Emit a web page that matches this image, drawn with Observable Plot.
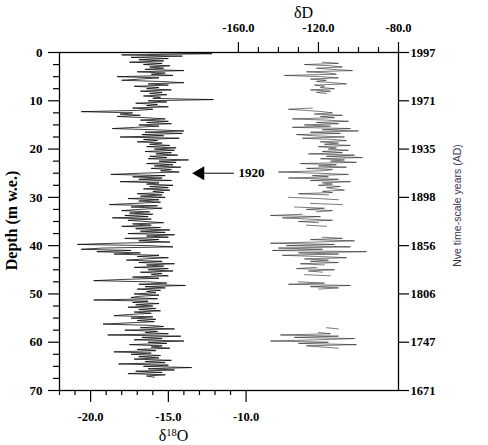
<!DOCTYPE html>
<html><head><meta charset="utf-8">
<script src="https://cdn.jsdelivr.net/npm/d3@7"></script>
<script src="https://cdn.jsdelivr.net/npm/@observablehq/plot@0.6"></script>
<style>
body{margin:0;background:#fff;}
#chart{position:relative;width:488px;height:445px;}
#chart svg{position:absolute;left:0;top:0;}
</style></head><body><div id="chart"></div>
<script>
// ---- axis ticks and labels ----
const depthTicks = [0, 10, 20, 30, 40, 50, 60, 70];
const depthMinorTicks = [2.5, 5, 7.5, 12.5, 15, 17.5, 22.5, 25, 27.5, 32.5, 35, 37.5, 42.5, 45, 47.5, 52.5, 55, 57.5, 62.5, 65, 67.5];
const yearLabels = ["1997", "1971", "1935", "1898", "1856", "1806", "1747", "1671"];
const d18OTicks = [-20, -15, -10];
const d18OMinorTicks = [-22, -21, -19, -18, -17, -16, -14, -13, -12, -11];
const dDTicks = [-160, -120, -80];
const dDMinorTicks = [-150, -140, -130, -110, -100, -90];

// ---- δ18O record: first depth and sampling step (m w.e.) ----
const d18OStart = 0;
const d18OStep = 0.25;
const d18O = [
  -16.8, -12.2, -18.0, -14.1,  -17.4, -15.0, -16.9, -15.3,  -17.5, -15.4, -16.6, -14.9,
  -16.2, -15.3, -16.5, -14.0,  -17.0, -15.2, -16.1, -14.7,  -18.3, -15.6, -16.8, -18.0,
  -15.5, -14.0, -16.3, -15.0,  -17.2, -15.6, -16.4, -14.8,  -16.8, -15.4, -16.2, -15.1,
  -16.6, -15.5, -16.0, -12.1,  -16.3, -15.1, -17.1, -15.7,  -16.4, -15.0, -17.3, -16.0,
  -17.0, -20.6, -17.3, -18.1,  -16.8, -18.3, -16.5, -15.2,  -16.8, -15.0, -16.4, -14.8,
  -16.9, -15.6, -17.1, -18.6,  -15.9, -14.0, -16.5, -14.1,  -16.7, -15.3, -18.1, -14.3,
  -16.6, -15.7, -17.0, -15.4,  -16.2, -14.9, -16.4, -14.5,  -15.9, -14.6, -16.5, -14.8,
  -15.8, -14.4, -16.2, -15.1,  -16.3, -13.7, -15.6, -14.5,  -16.4, -14.7, -15.9, -14.2,
  -16.1, -14.8, -15.5, -14.3,  -16.8, -18.7, -15.2, -17.3,  -15.4, -16.9, -14.8, -18.1,
  -15.6, -16.4, -14.7, -16.2,  -15.0, -16.6, -14.9, -16.0,  -15.3, -17.0, -15.4, -16.8,
  -15.2, -17.6, -15.6, -16.9,  -15.5, -17.2, -18.8, -15.7,  -17.4, -15.4, -16.9, -18.0,
  -16.2, -17.5, -16.0, -17.8,  -16.3, -18.6, -16.1, -17.6,  -16.5, -15.3, -17.3, -16.1,
  -18.0, -15.5, -17.1, -14.9,  -16.8, -15.2, -17.6, -14.6,  -16.4, -15.0, -17.8, -15.6,
  -16.9, -14.9, -18.4, -20.85, -16.2, -14.7, -19.2, -20.6,  -17.4, -19.6, -16.8, -18.5,
  -15.6, -17.0, -15.0, -16.5,  -17.7, -15.4, -16.9, -14.6,  -16.4, -15.3, -17.2, -15.0,
  -16.3, -14.7, -16.8, -15.4,  -16.1, -15.0, -17.3, -15.6,  -17.9, -19.8, -16.2, -15.1,
  -16.9, -13.9, -16.5, -15.2,  -17.0, -15.5, -16.4, -15.8,  -17.2, -15.6, -16.9, -17.4,
  -15.7, -19.8, -16.3, -17.3,  -15.6, -17.1, -16.0, -17.6,  -15.8, -16.9, -15.5, -17.2,
  -16.1, -17.5, -18.5, -16.0,  -17.4, -15.8, -17.0, -15.9,  -17.6, -19.2, -16.2, -15.3,
  -16.8, -14.6, -17.8, -15.7,  -16.5, -15.0, -18.9, -14.2,  -16.7, -15.4, -17.2, -14.0,
  -16.3, -15.1, -17.5, -15.4,  -16.1, -14.9, -17.0, -15.8,  -18.5, -16.1, -17.4, -15.5,
  -16.9, -15.6, -17.2, -14.8,  -16.5, -15.2, -18.2, -15.0,  -16.6, -13.5, -16.3, -14.6,
  -17.1, -15.4, -17.6, -15.2,  -16.4, -15.9
];

// ---- δD record: measured runs (start depth of each run, values at the same step) ----
const dDStep = 0.25;
const dDRunStarts = [2.0, 11.5, 30.0, 31.25, 32.0, 33.5, 35.75, 38.25, 44.5, 46.0, 47.5, 57.0, 58.0];
const dDRuns = [
  [-118, -110, -127, -114, -108, -121, -113, -103, -126, -115, -111, -137, -119, -110, -124, -116, -121, -113, -106, -122, -117, -119, -112, -124, -114, -121, -116],
  [-123, -135, -126, -118, -113, -122, -108, -119, -112, -133, -116, -105, -121, -110, -127, -114, -133, -104, -118, -100, -124, -109, -131, -122, -107, -128, -113, -106, -119, -110, -117, -104, -120, -111, -115, -105, -118, -108, -125, -102, -116, -98, -119, -107, -114, -101, -129, -111, -120, -106, -126, -113, -118, -140, -121, -105, -123, -115, -135, -110, -124, -104, -118, -113, -120, -109, -116, -112, -107, -118, -113, -130, -115],
  [-135, -120, -110],
  [-124, -108],
  [-132, -117, -126, -113, -121],
  [-128, -144, -119, -138, -125, -113, -130, -120],
  [-126, -116],
  [-118, -108, -124, -102, -121, -144, -112, -136, -104, -140, -118, -143, -96, -130, -110, -138, -120, -106, -127, -115, -124, -110, -129, -117],
  [-121, -131, -112, -125, -118],
  [-127, -114],
  [-130, -117, -135, -104, -124, -110, -120],
  [-116, -110],
  [-120, -114, -139, -110, -132, -102, -121, -144, -115, -130, -101, -126, -118, -110]
];

// ---- annotation ----
const arrowDepth = 25;
const arrowTip = -13.4;
const arrowTail = -10.75;
const arrowLabel = "1920";

// ---- text ----
const depthTitle = "Depth (m w.e.)";
const yearTitle = "Nve time-scale years (AD)";
const dDTitle = "δD";
const d18OTitle = "δ18O";

// ---- build tables ----
const d18ORows = d18O.map((v, i) => ({d: d18OStart + i * d18OStep, v}));
const dDRows = dDRuns.flatMap((run, r) => run.map((v, i) => ({d: dDRunStarts[r] + i * dDStep, v, run: r})));

const serif = "'Liberation Serif', 'Times New Roman', serif";
const sans = "'Liberation Sans', Arial, sans-serif";
const common = {
  width: 488, height: 445,
  marginLeft: 59, marginRight: 90, marginTop: 52, marginBottom: 55,
  y: {domain: [0, 70], reverse: true},
  style: {fontFamily: serif, background: "transparent", overflow: "visible", color: "#000"}
};
const tickText = {fontFamily: serif, fontSize: 12.5, fontWeight: "bold", fill: "#000"};
const title = {textAnchor: "middle", lineAnchor: "middle", text: d => d, fontFamily: serif, fill: "#000"};

const p1 = Plot.plot({
  ...common,
  x: {domain: [-22, -0.2]},
  marks: [
    Plot.frame({stroke: "#000", strokeWidth: 1.3}),
    Plot.axisX(d18OMinorTicks, {anchor: "bottom", tickSize: 5, strokeWidth: 1.2, tickFormat: () => "", label: null}),
    Plot.axisX(d18OTicks, {anchor: "bottom", tickSize: 12, strokeWidth: 1.2, tickPadding: 10, tickFormat: d => d.toFixed(1), ...tickText, label: null}),
    Plot.axisY(depthMinorTicks, {anchor: "left", tickSize: 6, strokeWidth: 1.2, tickFormat: () => "", label: null}),
    Plot.axisY(depthTicks, {anchor: "left", tickSize: 11, strokeWidth: 1.2, tickPadding: 6, tickFormat: d => String(d), ...tickText, fontSize: 13, label: null}),
    Plot.axisY(depthTicks, {anchor: "right", tickSize: 10, strokeWidth: 1.2, tickPadding: 2, tickFormat: d => yearLabels[depthTicks.indexOf(d)], ...tickText, label: null}),
    Plot.line(d18ORows, {x: "v", y: "d", stroke: "#000", strokeWidth: 0.75}),
    Plot.ruleY([arrowDepth], {x1: arrowTip + 0.5, x2: arrowTail, stroke: "#000", strokeWidth: 1}),
    Plot.dot([arrowDepth], {x: arrowTip, y: d => d, symbol: "triangle", r: 5.2, fill: "#000", stroke: null, rotate: -90, dx: 7}),
    Plot.text([arrowLabel], {x: arrowTail, y: arrowDepth, text: d => d, textAnchor: "start", dx: 4, fontFamily: serif, fontSize: 13, fontWeight: "bold"}),
    Plot.text([depthTitle], {...title, frameAnchor: "left", dx: -48, dy: -1, rotate: -90, fontSize: 16, fontWeight: "bold"}),
    Plot.text([yearTitle], {...title, frameAnchor: "right", dx: 59, dy: -16, rotate: -90, fontFamily: sans, fontSize: 10.5, fill: "#3a3552"}),
    Plot.text([d18OTitle], {...title, frameAnchor: "bottom", dx: -55.5, dy: 45, fontSize: 16, className: "d18o-label"})
  ]
});

const p2 = Plot.plot({
  ...common,
  x: {domain: [-249.4, -80]},
  y: {domain: [0, 70], reverse: true, axis: null},
  marks: [
    Plot.axisX(dDMinorTicks, {anchor: "top", tickSize: 6, strokeWidth: 1.2, tickFormat: () => "", label: null}),
    Plot.axisX(dDTicks, {anchor: "top", tickSize: 11, strokeWidth: 1.2, tickPadding: 10, tickFormat: d => d.toFixed(1), ...tickText, label: null}),
    Plot.line(dDRows, {x: "v", y: "d", z: "run", stroke: "#222", strokeWidth: 0.6}),
    Plot.text([dDTitle], {...title, frameAnchor: "top", dx: 74.5, dy: -40, fontSize: 16})
  ]
});

const el = document.getElementById("chart");
el.appendChild(p1);
el.appendChild(p2);

// superscript for δ18O
const lab = d3.select(p1).select("g.d18o-label text");
lab.text(null);
lab.append("tspan").text("δ");
lab.append("tspan").attr("dy", -5).attr("font-size", 10.5).text("18");
lab.append("tspan").attr("dy", 5).text("O");
</script></body></html>
